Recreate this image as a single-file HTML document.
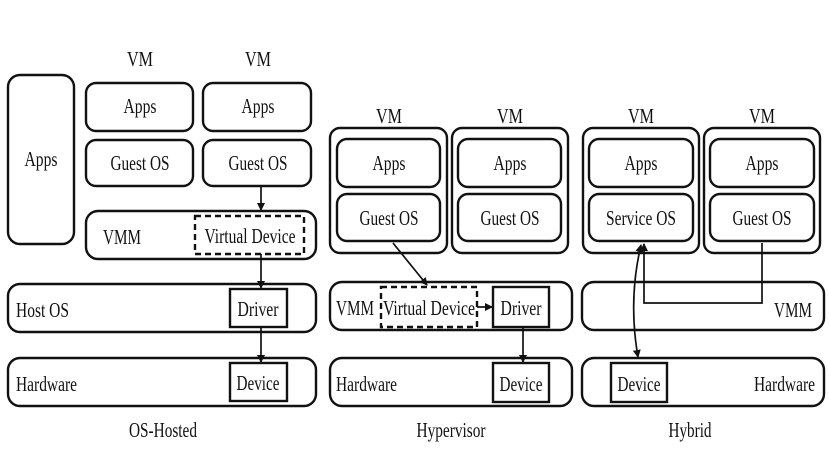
<!DOCTYPE html>
<html><head><meta charset="utf-8"><style>
html,body{margin:0;padding:0;background:#fff;}
svg{display:block;}
text{font-family:"Liberation Serif",serif;font-size:21px;fill:#111;}
</style></head><body>
<svg width="829" height="470" viewBox="0 0 829 470" xmlns="http://www.w3.org/2000/svg">
<defs>
<marker id="a" markerWidth="8" markerHeight="10" refX="7" refY="5" orient="auto" markerUnits="userSpaceOnUse">
<path d="M0,1 L8,5 L0,9 Z" fill="#111"/></marker>
<marker id="s" markerWidth="8" markerHeight="10" refX="1" refY="5" orient="auto" markerUnits="userSpaceOnUse">
<path d="M8,1 L0,5 L8,9 Z" fill="#111"/></marker>
</defs>
<g fill="none" stroke="#111" stroke-width="2.4">
<rect x="8" y="75" width="66" height="169" rx="12"/>
<rect x="86" y="83" width="107" height="48" rx="10"/>
<rect x="86" y="140" width="107" height="46" rx="10"/>
<rect x="203" y="83" width="108" height="48" rx="10"/>
<rect x="203" y="140" width="108" height="46" rx="10"/>
<rect x="86" y="211" width="230" height="48" rx="12"/>
<rect x="195" y="216" width="109" height="38" stroke-dasharray="6,4"/>
<rect x="8" y="284" width="308" height="48" rx="12"/>
<rect x="230" y="289" width="57" height="38"/>
<rect x="8" y="358" width="308" height="48" rx="12"/>
<rect x="230" y="363" width="57" height="38"/>
<rect x="330" y="128" width="117" height="125" rx="10"/>
<rect x="452" y="128" width="116" height="125" rx="10"/>
<rect x="337" y="139" width="103" height="48" rx="10"/>
<rect x="337" y="194" width="103" height="47" rx="10"/>
<rect x="458" y="139" width="103" height="48" rx="10"/>
<rect x="458" y="194" width="103" height="47" rx="10"/>
<rect x="330" y="282" width="242" height="48" rx="12"/>
<rect x="381" y="287" width="96" height="40" stroke-dasharray="6,4"/>
<rect x="493" y="287" width="56" height="40"/>
<rect x="330" y="358" width="242" height="48" rx="12"/>
<rect x="493" y="363" width="56" height="39"/>
<rect x="583" y="128" width="116" height="125" rx="10"/>
<rect x="704" y="128" width="116" height="125" rx="10"/>
<rect x="589" y="139" width="104" height="48" rx="10"/>
<rect x="589" y="194" width="104" height="47" rx="10"/>
<rect x="710" y="139" width="104" height="48" rx="10"/>
<rect x="710" y="194" width="104" height="47" rx="10"/>
<rect x="582" y="282" width="242" height="48" rx="12"/>
<rect x="582" y="358" width="242" height="48" rx="12"/>
<rect x="611" y="363" width="56" height="39"/>
</g>
<g fill="none" stroke="#111" stroke-width="1.7">
<line x1="261" y1="186" x2="261" y2="210" marker-end="url(#a)"/>
<line x1="261" y1="254" x2="261" y2="288" marker-end="url(#a)"/>
<line x1="261" y1="327" x2="261" y2="362" marker-end="url(#a)"/>
<line x1="393" y1="243" x2="427" y2="285" marker-end="url(#a)"/>
<line x1="477" y1="307" x2="492" y2="307" marker-end="url(#a)"/>
<line x1="523" y1="327" x2="523" y2="362" marker-end="url(#a)"/>
<polyline points="762,243 762,303 644,303 644,244" marker-end="url(#a)"/>
<path d="M641,245 Q628,300 638,357" marker-start="url(#s)" marker-end="url(#a)"/>
</g>
<g text-anchor="middle">
<text x="140" y="66" textLength="26" lengthAdjust="spacingAndGlyphs">VM</text>
<text x="258" y="66" textLength="26" lengthAdjust="spacingAndGlyphs">VM</text>
<text x="41" y="166" textLength="33" lengthAdjust="spacingAndGlyphs">Apps</text>
<text x="140" y="113" textLength="33" lengthAdjust="spacingAndGlyphs">Apps</text>
<text x="258" y="113" textLength="33" lengthAdjust="spacingAndGlyphs">Apps</text>
<text x="140" y="170" textLength="59" lengthAdjust="spacingAndGlyphs">Guest OS</text>
<text x="258" y="170" textLength="59" lengthAdjust="spacingAndGlyphs">Guest OS</text>
<text x="250" y="243" textLength="91" lengthAdjust="spacingAndGlyphs">Virtual Device</text>
<text x="258" y="316" textLength="41" lengthAdjust="spacingAndGlyphs">Driver</text>
<text x="258" y="390" textLength="43" lengthAdjust="spacingAndGlyphs">Device</text>
<text x="163" y="437" textLength="68" lengthAdjust="spacingAndGlyphs">OS-Hosted</text>
<text x="389" y="123" textLength="26" lengthAdjust="spacingAndGlyphs">VM</text>
<text x="510" y="123" textLength="26" lengthAdjust="spacingAndGlyphs">VM</text>
<text x="389" y="170" textLength="33" lengthAdjust="spacingAndGlyphs">Apps</text>
<text x="510" y="170" textLength="33" lengthAdjust="spacingAndGlyphs">Apps</text>
<text x="389" y="225" textLength="59" lengthAdjust="spacingAndGlyphs">Guest OS</text>
<text x="510" y="225" textLength="59" lengthAdjust="spacingAndGlyphs">Guest OS</text>
<text x="429" y="315" textLength="92" lengthAdjust="spacingAndGlyphs">Virtual Device</text>
<text x="521" y="315" textLength="41" lengthAdjust="spacingAndGlyphs">Driver</text>
<text x="521" y="391" textLength="43" lengthAdjust="spacingAndGlyphs">Device</text>
<text x="451" y="437" textLength="69" lengthAdjust="spacingAndGlyphs">Hypervisor</text>
<text x="641" y="123" textLength="26" lengthAdjust="spacingAndGlyphs">VM</text>
<text x="762" y="123" textLength="26" lengthAdjust="spacingAndGlyphs">VM</text>
<text x="641" y="170" textLength="33" lengthAdjust="spacingAndGlyphs">Apps</text>
<text x="762" y="170" textLength="33" lengthAdjust="spacingAndGlyphs">Apps</text>
<text x="641" y="225" textLength="70" lengthAdjust="spacingAndGlyphs">Service OS</text>
<text x="762" y="225" textLength="59" lengthAdjust="spacingAndGlyphs">Guest OS</text>
<text x="639" y="391" textLength="43" lengthAdjust="spacingAndGlyphs">Device</text>
<text x="690" y="437" textLength="43" lengthAdjust="spacingAndGlyphs">Hybrid</text>
</g>
<g>
<text x="103" y="244" textLength="38" lengthAdjust="spacingAndGlyphs">VMM</text>
<text x="16" y="317" textLength="53" lengthAdjust="spacingAndGlyphs">Host OS</text>
<text x="16" y="391" textLength="61" lengthAdjust="spacingAndGlyphs">Hardware</text>
<text x="336" y="315" textLength="38" lengthAdjust="spacingAndGlyphs">VMM</text>
<text x="336" y="391" textLength="61" lengthAdjust="spacingAndGlyphs">Hardware</text>
<text x="774" y="317" textLength="38" lengthAdjust="spacingAndGlyphs">VMM</text>
<text x="754" y="391" textLength="61" lengthAdjust="spacingAndGlyphs">Hardware</text>
</g>
</svg>
</body></html>
